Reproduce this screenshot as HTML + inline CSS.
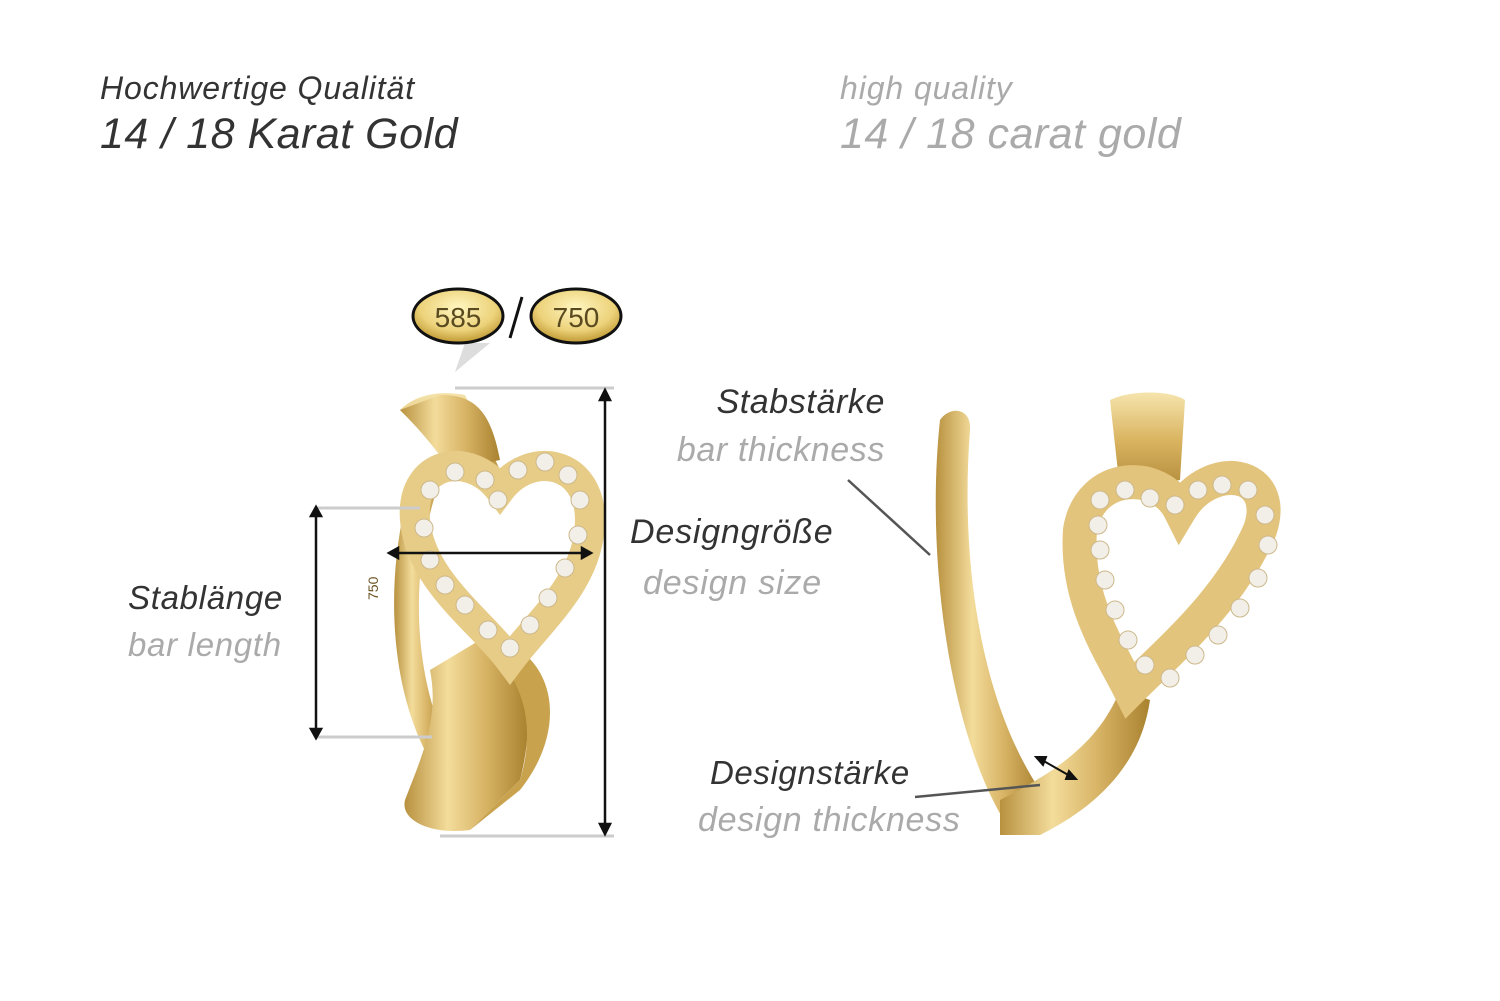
<!DOCTYPE html>
<html><head><meta charset="utf-8"><style>
html,body{margin:0;padding:0;background:#fff;}
body{width:1500px;height:1001px;position:relative;overflow:hidden;font-family:"Liberation Sans",sans-serif;font-style:italic;}
.t{position:absolute;white-space:nowrap;}
.d{color:#333}.g{color:#aaa}
svg text{font-style:normal}
</style></head><body>
<div class="t d" style="left:100px;top:70px;font-size:32px;letter-spacing:0.9px">Hochwertige Qualität</div>
<div class="t d" style="left:100px;top:110px;font-size:43px;letter-spacing:0.5px">14 / 18 Karat Gold</div>
<div class="t g" style="left:840px;top:70px;font-size:32px;letter-spacing:0.9px">high quality</div>
<div class="t g" style="left:840px;top:110px;font-size:43px;letter-spacing:0.5px">14 / 18 carat gold</div>

<div class="t d" style="left:128px;top:579px;font-size:33px;letter-spacing:0.7px">Stablänge</div>
<div class="t g" style="left:128px;top:626px;font-size:33px;letter-spacing:0.7px">bar length</div>
<div class="t d" style="left:630px;top:513px;font-size:34px;letter-spacing:0.8px">Designgröße</div>
<div class="t g" style="left:643px;top:564px;font-size:34px;letter-spacing:0.8px">design size</div>
<div class="t d" style="right:615px;top:383px;font-size:34px;letter-spacing:0.6px">Stabstärke</div>
<div class="t g" style="right:615px;top:431px;font-size:34px;letter-spacing:0.6px">bar thickness</div>
<div class="t d" style="left:710px;top:754px;font-size:33px;letter-spacing:0.6px">Designstärke</div>
<div class="t g" style="left:698px;top:801px;font-size:34px;letter-spacing:0.7px">design thickness</div>

<svg width="1500" height="1001" style="position:absolute;left:0;top:0">
<defs>
<linearGradient id="gold" x1="0" y1="0" x2="1" y2="0">
<stop offset="0" stop-color="#b8913f"/><stop offset="0.35" stop-color="#f3dc9b"/><stop offset="0.65" stop-color="#d8b466"/><stop offset="1" stop-color="#a9822f"/></linearGradient>
<linearGradient id="goldv" x1="0" y1="0" x2="0" y2="1">
<stop offset="0" stop-color="#f5e4ad"/><stop offset="0.5" stop-color="#d9b35f"/><stop offset="1" stop-color="#b08a3a"/></linearGradient>
<radialGradient id="badge" cx="0.5" cy="0.35" r="0.7"><stop offset="0" stop-color="#fff6c0"/><stop offset="0.6" stop-color="#ecd27a"/><stop offset="1" stop-color="#b48a20"/></radialGradient>
</defs>
<polygon points="465,343 490,343 455,372" fill="#ddd"/>
<ellipse cx="458" cy="316" rx="45" ry="27" fill="url(#badge)" stroke="#111" stroke-width="3"/>
<ellipse cx="576" cy="316" rx="45" ry="27" fill="url(#badge)" stroke="#111" stroke-width="3"/>
<line x1="522" y1="297" x2="510" y2="338" stroke="#111" stroke-width="3"/>
<text x="458" y="327" font-family="Liberation Sans" font-size="28" fill="#5a4a20" text-anchor="middle">585</text>
<text x="576" y="327" font-family="Liberation Sans" font-size="28" fill="#5a4a20" text-anchor="middle">750</text>

<path d="M415,470 C385,560 385,680 430,760 L445,740 C410,660 412,560 440,480 Z" fill="url(#gold)"/>
<path d="M400,410 C420,390 450,392 465,395 L500,470 L470,480 Z" fill="url(#goldv)"/>
<path d="M440,395 C470,395 490,405 500,460 L450,470 C430,440 410,420 400,410 Z" fill="url(#gold)"/>
<path d="M480,640 C520,660 540,700 520,780 L470,830 C430,835 400,820 405,800 C420,760 440,720 430,670 Z" fill="url(#gold)"/>
<path d="M520,650 C560,680 560,740 520,790 L470,830 L520,780 C535,730 525,690 500,660 Z" fill="#c9a24e"/>
<path d="M500,490 C470,450 410,460 415,520 C420,580 480,620 510,660 C540,620 590,580 590,520 C590,460 530,450 500,490 Z" fill="none" stroke="#e7cc88" stroke-width="30"/>
<g fill="#f2efe8" stroke="#cdb88a" stroke-width="1">
<circle cx="430" cy="490" r="9"/><circle cx="455" cy="472" r="9"/><circle cx="485" cy="480" r="9"/><circle cx="518" cy="470" r="9"/><circle cx="545" cy="462" r="9"/><circle cx="568" cy="475" r="9"/><circle cx="580" cy="500" r="9"/><circle cx="578" cy="535" r="9"/><circle cx="565" cy="568" r="9"/><circle cx="548" cy="598" r="9"/><circle cx="530" cy="625" r="9"/><circle cx="510" cy="648" r="9"/><circle cx="488" cy="630" r="9"/><circle cx="465" cy="605" r="9"/><circle cx="445" cy="585" r="9"/><circle cx="430" cy="560" r="9"/><circle cx="424" cy="528" r="9"/><circle cx="498" cy="500" r="9"/>
</g>
<text x="378" y="600" font-family="Liberation Sans" font-size="14" fill="#6b5220" transform="rotate(-90 378 600)">750</text>

<g stroke="#ccc" stroke-width="3">
<line x1="455" y1="388" x2="614" y2="388"/><line x1="440" y1="836" x2="614" y2="836"/>
<line x1="316" y1="508" x2="420" y2="508"/><line x1="316" y1="737" x2="432" y2="737"/>
</g>
<g stroke="#111" stroke-width="2.5" fill="#111">
<line x1="605" y1="398" x2="605" y2="826"/><polygon points="600,400 610,400 605,390" /><polygon points="600,824 610,824 605,834"/>
<line x1="316" y1="514" x2="316" y2="731"/><polygon points="311,516 321,516 316,507"/><polygon points="311,729 321,729 316,738"/>
<line x1="396" y1="553" x2="584" y2="553"/><polygon points="398,548 398,558 389,553"/><polygon points="582,548 582,558 591,553"/>
</g>

<path d="M940,420 C950,405 972,408 970,430 C960,560 980,700 1040,790 L1010,830 C950,740 925,560 940,420 Z" fill="url(#gold)"/>
<path d="M1110,400 C1130,390 1170,390 1185,400 L1180,480 L1120,490 Z" fill="url(#goldv)"/>
<path d="M1000,800 C1060,770 1100,740 1120,690 L1150,700 C1140,770 1090,810 1040,835 L1000,835 Z" fill="url(#gold)"/>
<path d="M1180,510 C1160,470 1090,470 1080,530 C1075,600 1110,650 1130,690 C1170,650 1230,600 1260,530 C1280,470 1210,460 1180,510 Z" fill="none" stroke="#e3c47c" stroke-width="34"/>
<g fill="#f2efe8" stroke="#cdb88a" stroke-width="1">
<circle cx="1100" cy="500" r="9"/><circle cx="1125" cy="490" r="9"/><circle cx="1150" cy="498" r="9"/><circle cx="1175" cy="505" r="9"/><circle cx="1198" cy="490" r="9"/><circle cx="1222" cy="485" r="9"/><circle cx="1248" cy="490" r="9"/><circle cx="1265" cy="515" r="9"/><circle cx="1268" cy="545" r="9"/><circle cx="1258" cy="578" r="9"/><circle cx="1240" cy="608" r="9"/><circle cx="1218" cy="635" r="9"/><circle cx="1195" cy="655" r="9"/><circle cx="1170" cy="678" r="9"/><circle cx="1145" cy="665" r="9"/><circle cx="1128" cy="640" r="9"/><circle cx="1115" cy="610" r="9"/><circle cx="1105" cy="580" r="9"/><circle cx="1100" cy="550" r="9"/><circle cx="1098" cy="525" r="9"/>
</g>
<g stroke="#555" stroke-width="2.5"><line x1="848" y1="480" x2="930" y2="555"/><line x1="915" y1="797" x2="1040" y2="785"/></g>
<g stroke="#111" stroke-width="2" fill="#111"><line x1="1042" y1="760" x2="1070" y2="776"/><polygon points="1036,757 1046,757 1043,765"/><polygon points="1076,779 1066,779 1069,771"/></g>
</svg>
</body></html>
